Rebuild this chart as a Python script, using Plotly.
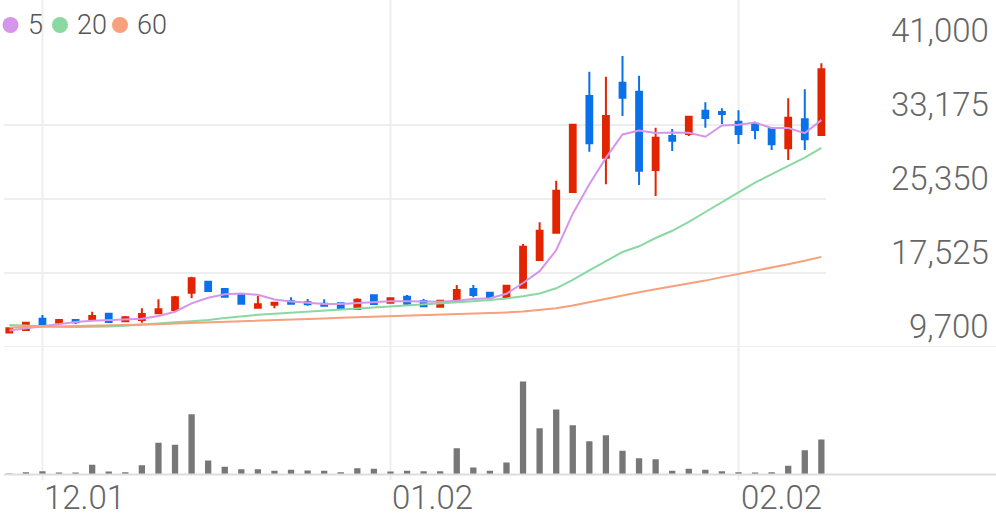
import plotly.graph_objects as go

# ---------------------------------------------------------------------------
# Data
# ---------------------------------------------------------------------------

DATES = [
    "11.29", "11.30",
    "12.01", "12.02", "12.05", "12.06", "12.07", "12.08", "12.09",
    "12.12", "12.13", "12.14", "12.15", "12.16", "12.19", "12.20",
    "12.21", "12.22", "12.23", "12.26", "12.27", "12.28", "12.29",
    "01.02", "01.03", "01.04", "01.05", "01.06", "01.09", "01.10",
    "01.11", "01.12", "01.13", "01.16", "01.17", "01.18", "01.19",
    "01.20", "01.25", "01.26", "01.27", "01.30", "01.31", "02.01",
    "02.02", "02.03", "02.06", "02.07", "02.08", "02.09",
]

OPEN = [
    11230, 11500, 12700, 12270, 12556, 12660, 13220, 12420, 12556, 13264,
    13613, 15443, 16606, 15834, 15274, 13856, 14174, 14533, 14427, 14279,
    14322, 13719, 15168, 14385, 15020, 14565, 13962, 14459, 15834, 15443,
    14988, 15971, 18900, 21787, 26091, 36242, 29718, 37648, 36696, 28417,
    32012, 32224, 34687, 34550, 33524, 33313, 32784, 30712, 33778, 32118,
]
HIGH = [
    11750, 12300, 13085, 12580, 12630, 13430, 13250, 12980, 13790, 14745,
    15094, 17134, 16650, 15900, 15300, 15094, 14420, 14956, 14776, 14745,
    14330, 14850, 15200, 14900, 15199, 14776, 14620, 16257, 16257, 15548,
    16220, 20592, 22887, 27286, 33250, 38811, 38283, 40471, 38388, 32890,
    32752, 34100, 35576, 34941, 34730, 33524, 32860, 35999, 36950, 39699,
]
LOW = [
    11150, 11450, 12030, 11995, 12130, 12620, 12300, 12310, 12270, 13190,
    13434, 14850, 15580, 14980, 14250, 13820, 13793, 14216, 14068, 14040,
    13730, 13690, 14200, 14350, 14142, 13899, 13940, 14430, 14956, 14776,
    14960, 15950, 18880, 21770, 26000, 30352, 26905, 34127, 26831, 25668,
    30426, 32012, 32890, 33281, 31166, 31663, 30532, 29474, 30532, 32100,
]
CLOSE = [
    11690, 12270, 12130, 12556, 12310, 12980, 12340, 12840, 13190, 13687,
    14956, 16965, 15622, 15020, 14279, 14216, 14385, 14279, 14216, 14068,
    13751, 14702, 14248, 14850, 14279, 14005, 14597, 15728, 15199, 14956,
    16183, 20307, 21999, 26228, 33207, 31240, 34127, 36062, 28343, 31832,
    31515, 34053, 33915, 34338, 32224, 32647, 31134, 33947, 31663, 39065,
]

VOLUME = [
    30000, 69000, 99000, 39000, 39000, 291000, 90000, 69000, 279000, 951000,
    891000, 1809000, 420000, 231000, 159000, 159000, 111000, 141000, 120000, 111000,
    69000, 189000, 171000, 90000, 111000, 99000, 99000, 789000, 210000, 111000,
    360000, 2790000, 1389000, 1950000, 1479000, 999000, 1179000, 711000, 489000, 459000,
    111000, 171000, 141000, 99000, 69000, 39000, 69000, 261000, 729000, 1050000,
]

MA5 = [
    11450, 11680, 11850, 12100, 12340, 12480, 12550, 12560, 12700, 12980,
    13430, 14320, 14900, 15270, 15360, 15220, 14720, 14500, 14390, 14250,
    14240, 14350, 14460, 14530, 14530, 14490, 14490, 14600, 14780, 14850,
    15330, 16470, 17720, 19930, 23800, 26900, 29700, 32170, 32600, 32320,
    32380, 32360, 31930, 33130, 33210, 33440, 32850, 32860, 32320, 33690,
]
MA20 = [
    12030, 11955, 11890, 11835, 11815, 11825, 11870, 11945, 12040, 12165,
    12310, 12430, 12555, 12770, 12960, 13110, 13215, 13320, 13435, 13540,
    13645, 13750, 13855, 13995, 14080, 14205, 14310, 14415, 14535, 14670,
    14820, 15070, 15360, 15910, 16805, 17810, 18795, 19745, 20350, 21225,
    21990, 22920, 23975, 25055, 26050, 27075, 27995, 28860, 29720, 30745,
]
MA60 = [
    11750, 11785, 11815, 11840, 11870, 11900, 11945, 12000, 12060, 12110,
    12190, 12240, 12300, 12365, 12420, 12480, 12535, 12600, 12660, 12715,
    12780, 12830, 12885, 12945, 13000, 13060, 13115, 13170, 13230, 13295,
    13355, 13450, 13610, 13790, 14090, 14460, 14830, 15200, 15495, 15810,
    16110, 16405, 16720, 17090, 17420, 17760, 18100, 18445, 18825, 19230,
]

MA_NAMES = ["5", "20", "60"]
MA_COLORS = ["#d596ea", "#8ad8a2", "#f6a07c"]

PRICE_TICKS = [9700, 17525, 25350, 33175, 41000]
DATE_TICKS = ["12.01", "01.02", "02.02"]

# ---------------------------------------------------------------------------
# Layout constants (pixels of the 996 x 519 page)
# ---------------------------------------------------------------------------

W, H = 996, 519
UP = "#e22400"
DOWN = "#0a72e9"
GRID = "#eeeeee"
TEXT = "#666666"
FONT = "Roboto Light, Roboto, sans-serif"


def px_x(x):
    return x / W


def px_y(y):
    return 1 - y / H


fig = go.Figure()

fig.add_trace(
    go.Candlestick(
        x=DATES, open=OPEN, high=HIGH, low=LOW, close=CLOSE,
        increasing=dict(line=dict(color=UP, width=2), fillcolor=UP),
        decreasing=dict(line=dict(color=DOWN, width=2), fillcolor=DOWN),
        whiskerwidth=0,
        showlegend=False,
        xaxis="x", yaxis="y",
    )
)

for name, vals, color in zip(MA_NAMES, [MA5, MA20, MA60], MA_COLORS):
    fig.add_trace(
        go.Scatter(
            x=DATES, y=vals, mode="lines", name=name,
            line=dict(color=color, width=2),
            showlegend=False, xaxis="x", yaxis="y",
        )
    )

fig.add_trace(
    go.Bar(
        x=DATES, y=VOLUME, width=0.38, marker=dict(color="#777777", line=dict(width=0)),
        showlegend=False, xaxis="x2", yaxis="y2",
    )
)

x_dom = [px_x(4), px_x(826)]
x_range = [-0.32, 49.28]

shapes = []
# vertical grid lines through the whole chart
for d in DATE_TICKS:
    i = DATES.index(d)
    shapes.append(dict(
        type="line", xref="x", yref="paper", x0=i, x1=i,
        y0=px_y(480), y1=1, line=dict(color=GRID, width=2), layer="below",
    ))
# bottom of price pane and base of volume pane run to the right edge
shapes.append(dict(
    type="line", xref="paper", yref="y", x0=px_x(4), x1=1,
    y0=PRICE_TICKS[0], y1=PRICE_TICKS[0], line=dict(color=GRID, width=2), layer="below",
))
shapes.append(dict(
    type="line", xref="paper", yref="paper", x0=px_x(4), x1=1,
    y0=px_y(474.5), y1=px_y(474.5), line=dict(color="#dddddd", width=2), layer="above",
))

annotations = []
for v in PRICE_TICKS:
    annotations.append(dict(
        xref="paper", yref="y", x=px_x(991), y=v, yshift=21,
        text=f"{v:,}", showarrow=False, xanchor="right", yanchor="middle",
        font=dict(family=FONT, size=33, color=TEXT, weight=300),
    ))
for d in DATE_TICKS:
    annotations.append(dict(
        xref="x", yref="paper", x=DATES.index(d), y=px_y(497), xshift=0,
        text=d, showarrow=False, xanchor="left", yanchor="middle",
        font=dict(family=FONT, size=33, color=TEXT, weight=300),
    ))

# legend: coloured dots + period labels
legend_dots = [10.5, 60, 120]
legend_text = [26, 75, 135]
for name, color, cx, tx in zip(MA_NAMES, MA_COLORS, legend_dots, legend_text):
    shapes.append(dict(
        type="circle", xref="paper", yref="paper",
        xsizemode="pixel", ysizemode="pixel",
        xanchor=px_x(cx), yanchor=px_y(25),
        x0=-8, x1=8, y0=-8, y1=8,
        fillcolor=color, line=dict(width=0),
    ))
    annotations.append(dict(
        xref="paper", yref="paper", x=px_x(tx), y=px_y(25),
        text=name, showarrow=False, xanchor="left", yanchor="middle",
        font=dict(family=FONT, size=27, color="#555555", weight=300),
    ))

fig.update_layout(
    width=W, height=H,
    margin=dict(l=0, r=0, t=0, b=0),
    paper_bgcolor="white", plot_bgcolor="white",
    boxgap=0.5,
    showlegend=False,
    xaxis=dict(
        domain=x_dom, type="category", range=x_range,
        showgrid=False, showticklabels=False, ticks="",
        rangeslider=dict(visible=False), zeroline=False, anchor="y",
    ),
    xaxis2=dict(
        domain=x_dom, type="category", range=x_range, matches="x",
        showgrid=False, showticklabels=False, ticks="", zeroline=False, anchor="y2",
    ),
    yaxis=dict(
        domain=[px_y(347), px_y(51)], range=[PRICE_TICKS[0], PRICE_TICKS[-1]],
        tickvals=PRICE_TICKS[1:], showticklabels=False, ticks="",
        gridcolor=GRID, gridwidth=2, zeroline=False,
    ),
    yaxis2=dict(
        domain=[px_y(474.5), px_y(374.5)], range=[0, 3000000],
        showgrid=False, showticklabels=False, ticks="", zeroline=False,
    ),
    shapes=shapes,
    annotations=annotations,
    hovermode=False,
)

# the page body has a default 8px margin; drop it so the chart fills the window
fig.write_html(
    "out.html",
    config={"displayModeBar": False},
    post_script="document.body.style.margin = '0'; document.body.style.overflow = 'hidden';",
)
